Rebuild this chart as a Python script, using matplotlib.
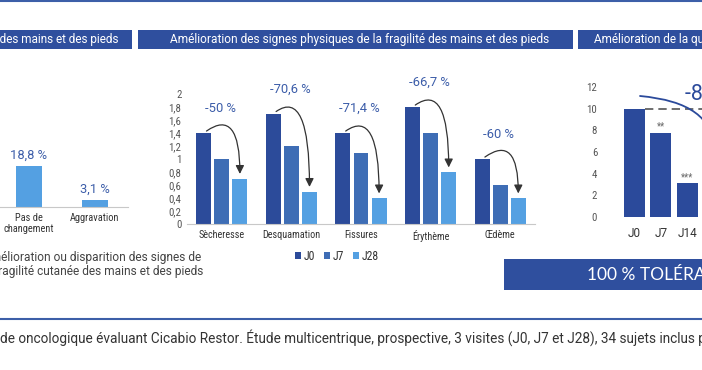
import matplotlib.pyplot as plt
from matplotlib.patches import Rectangle
from matplotlib.lines import Line2D

# --- data ---
left_cats = ["Amélioration", "Pas de\nchangement", "Aggravation"]
left_vals = [78.1, 18.8, 3.1]

signs = ["Sècheresse", "Desquamation", "Fissures", "Érythème", "Œdème"]
j0 = [1.4, 1.7, 1.4, 1.8, 1.0]
j7 = [1.0, 1.2, 1.1, 1.4, 0.6]
j28 = [0.7, 0.5, 0.4, 0.8, 0.4]
reductions = ["-50 %", "-70,6 %", "-71,4 %", "-66,7 %", "-60 %"]
y_ticks = [0, 0.2, 0.4, 0.6, 0.8, 1, 1.2, 1.4, 1.6, 1.8, 2]

qol_days = ["J0", "J7", "J14"]
qol_vals = [10, 7.8, 3.1]
qol_stars = ["", "**", "***"]
qol_ticks = [0, 2, 4, 6, 8, 10, 12]

# --- style ---
W, H = 702, 370
DARK = "#2B4A9B"
HEAD = "#2F4F9E"
C_J0, C_J7, C_J28 = "#2C4B9A", "#3E6DB5", "#54A0E2"
LBL = "#3C5DA9"
NARROW = ["Liberation Sans Narrow", "Roboto Condensed", "DejaVu Sans Condensed", "Roboto"]
plt.rcParams["font.family"] = ["Roboto", "DejaVu Sans"]

fig = plt.figure(figsize=(W / 100, H / 100), dpi=100)
fig.patch.set_facecolor("white")


def px_axes(left, top, right, bottom):
    return fig.add_axes([left / W, 1 - bottom / H, (right - left) / W, (bottom - top) / H])


def px_rect(x0, y0, x1, y1, color):
    fig.add_artist(Rectangle((x0 / W, 1 - y1 / H), (x1 - x0) / W, (y1 - y0) / H,
                             transform=fig.transFigure, color=color, lw=0))


def px_text(x, y, s, **kw):
    fig.text(x / W, 1 - y / H, s, **kw)


def clean(ax):
    for s in ["top", "right", "left"]:
        ax.spines[s].set_visible(False)
    ax.spines["bottom"].set_color("#c8c8c8")
    ax.patch.set_alpha(0)


# header bars
px_rect(-10, 30, 132, 49, HEAD)
px_rect(138, 30, 573, 49, HEAD)
px_rect(578, 30, 720, 49, HEAD)
px_text(118, 39.5, "Ressenti de la fragilité cutanée des mains et des pieds", ha="right", va="center",
        color="white", fontsize=8.5)
px_text(360, 39.5, "Amélioration des signes physiques de la fragilité des mains et des pieds",
        ha="center", va="center", color="white", fontsize=8.55)
px_text(594, 39.5, "Amélioration de la qualité de vie", ha="left", va="center",
        color="white", fontsize=8.5)

# top and bottom rules
fig.add_artist(Line2D([0, 1], [1 - 1 / H, 1 - 1 / H], transform=fig.transFigure, color="#3D5FA8", lw=1.5))
fig.add_artist(Line2D([0, 1], [1 - 319 / H, 1 - 319 / H], transform=fig.transFigure, color="#3D5FA8", lw=1.5))

# --- left panel ---
ax1 = px_axes(-70, 30, 128, 207)
x1 = range(len(left_cats))
ax1.bar(x1, left_vals, width=0.39, color=C_J28)
for i, v in enumerate(left_vals):
    ax1.annotate(f"{v:.1f} %".replace(".", ","), (i, v), xytext=(0, 3), textcoords="offset points",
                 ha="center", va="bottom", color=LBL, fontsize=9.3, annotation_clip=False)
ax1.set_xlim(-0.5, 2.5)
ax1.set_ylim(0, 81.2)
ax1.set_yticks([])
ax1.set_xticks(list(x1))
ax1.set_xticklabels(left_cats, family=NARROW, fontsize=7.5, color="#333333", linespacing=1.15)
ax1.tick_params(axis="x", length=0, pad=4)
clean(ax1)

px_text(201, 257, "Amélioration ou disparition des signes de", ha="right", va="center",
        color="#444444", fontsize=8.6)
px_text(203, 271, "fragilité cutanée des mains et des pieds", ha="right", va="center",
        color="#444444", fontsize=8.6)

# --- middle panel ---
ax2 = px_axes(187, 94, 535, 224)
xs = list(range(len(signs)))
bw = 0.215
ax2.bar([x - 0.26 for x in xs], j0, width=bw, color=C_J0, label="J0")
ax2.bar(xs, j7, width=bw, color=C_J7, label="J7")
ax2.bar([x + 0.26 for x in xs], j28, width=bw, color=C_J28, label="J28")
for i in xs:
    ax2.text(i - 0.02, j0[i] + 0.38, reductions[i], ha="center", va="center",
             color=LBL, fontsize=9.4)
    ax2.annotate("", xy=(i + 0.26, j28[i] + 0.07), xytext=(i - 0.22, j0[i] + 0.03),
                 arrowprops=dict(arrowstyle="-|>,head_length=0.5,head_width=0.25",
                                 connectionstyle="angle3,angleA=35,angleB=90",
                                 color="#333333", lw=0.9, shrinkA=0, shrinkB=0))
ax2.set_xlim(-0.5, 4.5)
ax2.set_ylim(0, 2)
ax2.set_yticks(y_ticks)
ax2.set_yticklabels([f"{t:g}".replace(".", ",") for t in y_ticks], family=NARROW,
                    fontsize=7.8, color="#555555")
ax2.set_xticks(xs)
ax2.set_xticklabels(signs, family=NARROW, fontsize=7.3, color="#333333")
ax2.tick_params(axis="both", length=0)
ax2.tick_params(axis="y", pad=4)
ax2.tick_params(axis="x", pad=4)
clean(ax2)
ax2.legend(loc="center", bbox_to_anchor=(337 / W, 1 - 256 / H), bbox_transform=fig.transFigure,
           ncol=3, frameon=False, handlelength=0.5, handleheight=0.5, handletextpad=0.2,
           columnspacing=0.8, prop={"family": NARROW, "size": 8.5}, labelcolor="#333333")

# --- right panel ---
ax3 = px_axes(601.4, 87, 727, 217)
xr = list(range(len(qol_days)))
ax3.bar(xr, qol_vals, width=0.79, color=DARK)
for i, v in enumerate(qol_vals):
    if qol_stars[i]:
        ax3.annotate(qol_stars[i], (i, v), xytext=(0, 1), textcoords="offset points",
                     ha="center", va="bottom", color="#666666", fontsize=7)
ax3.hlines(qol_vals[0], 0.4, 3.5, colors="#555555", linestyles=(0, (5, 3)), lw=1.2)
ax3.annotate("", xy=(3, 6.2), xytext=(0.21, 11.17),
             arrowprops=dict(arrowstyle="-", connectionstyle="angle3,angleA=-5,angleB=90",
                             color=DARK, lw=1.3, shrinkA=0, shrinkB=0))
ax3.text(1.9, 11.3, "-84 %", ha="left", va="center", color=DARK, fontsize=15.5)
ax3.set_xlim(-1.25, 3.5)
ax3.set_ylim(0, 12)
ax3.set_yticks(qol_ticks)
ax3.set_yticklabels([str(t) for t in qol_ticks], family=NARROW, fontsize=7.8, color="#555555")
ax3.set_xticks(xr)
ax3.set_xticklabels(qol_days, fontsize=8.5, color="#333333")
ax3.tick_params(axis="both", length=0)
ax3.tick_params(axis="y", pad=3)
ax3.tick_params(axis="x", pad=7)
clean(ax3)
ax3.spines["bottom"].set_visible(False)

# tolerance banner
px_rect(504, 259, 720, 290, HEAD)
px_text(587, 274.5, "100 % TOLÉRANCE", ha="left", va="center", color="white",
        fontsize=12.5, family=["Lato", "DejaVu Sans"])

# footnote
px_text(0, 338, "de oncologique évaluant Cicabio Restor. Étude multicentrique, prospective, 3 visites "
        "(J0, J7 et J28), 34 sujets inclus par", ha="left", va="center", color="#333333",
        fontsize=9.8)

fig.savefig("out.png", dpi=100, facecolor="white")
